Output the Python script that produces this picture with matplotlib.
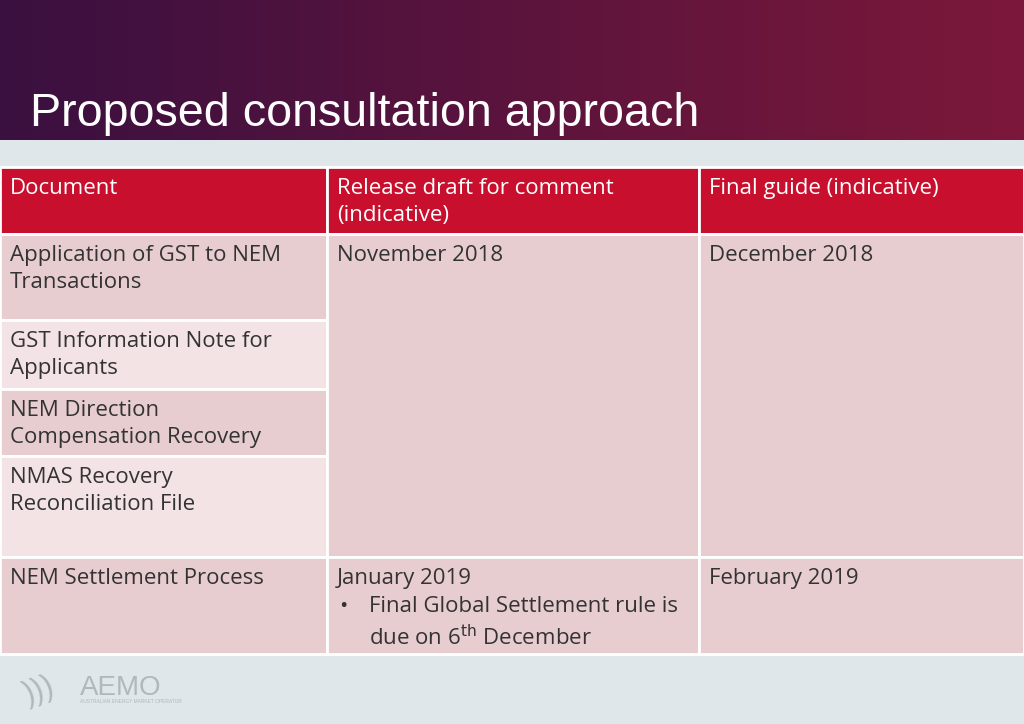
import numpy as np
import matplotlib
matplotlib.use("Agg")
import matplotlib.pyplot as plt
from matplotlib.patches import Rectangle

title = "Proposed consultation approach"
headers = ["Document", "Release draft for comment\n(indicative)", "Final guide (indicative)"]
documents = ["Application of GST to NEM\nTransactions", "GST Information Note for\nApplicants",
             "NEM Direction\nCompensation Recovery", "NMAS Recovery\nReconciliation File",
             "NEM Settlement Process"]
release_dates = ["November 2018", "January 2019"]
final_dates = ["December 2018", "February 2019"]
note = "Final Global Settlement rule is\ndue on 6$^{\\mathrm{th}}$ December"

col_x = [0, 327, 699, 1024]
row_y = [167, 234, 320, 389, 456, 557, 654]

fig = plt.figure(figsize=(10.24, 7.24), dpi=100)
ax = fig.add_axes([0, 0, 1, 1])
ax.axis("off")
ax.add_patch(Rectangle((0, 0), 1024, 724, color="#dfe7ea", zorder=0))
grad = np.linspace(0, 1, 256)[None, :, None]
c0 = np.array([0x3a, 0x10, 0x40]) / 255; c1 = np.array([0x7c, 0x18, 0x3a]) / 255
img = c0 * (1 - grad) + c1 * grad
ax.imshow(img, extent=[0, 1024, 140, 0], aspect="auto", zorder=1)
ax.set_xlim(0, 1024); ax.set_ylim(724, 0)
ax.text(30, 126, title, color="white", fontsize=33.6, family="Liberation Sans", va="baseline", zorder=3)

white = "white"
def cell(x0, x1, y0, y1, color):
    ax.add_patch(Rectangle((x0, y0), x1 - x0, y1 - y0, facecolor=color, edgecolor=white, lw=2, zorder=2))

ls = 1.4
pad = 11
for i, h in enumerate(headers):
    cell(col_x[i], col_x[i + 1], row_y[0], row_y[1], "#c8102e")
    ax.text(col_x[i] + 10, row_y[0] + pad, h, color="white", fontsize=16, family="Open Sans", va="top", linespacing=ls, zorder=3)

body_font = dict(fontsize=16, family="Open Sans", color="#333333", va="top", linespacing=ls, zorder=3)
first_col_colors = ["#e8cdd0", "#f3e3e5", "#e8cdd0", "#f3e3e5", "#e8cdd0"]
for r, d in enumerate(documents):
    cell(col_x[0], col_x[1], row_y[r + 1], row_y[r + 2], first_col_colors[r])
    ax.text(col_x[0] + 10, row_y[r + 1] + pad, d, **body_font)

for c in (1, 2):
    cell(col_x[c], col_x[c + 1], row_y[1], row_y[5], "#e8cdd0")
    cell(col_x[c], col_x[c + 1], row_y[5], row_y[6], "#e8cdd0")
ax.text(col_x[1] + 10, row_y[1] + pad, release_dates[0], **body_font)
ax.text(col_x[2] + 10, row_y[1] + pad, final_dates[0], **body_font)
ax.text(col_x[1] + 10, row_y[5] + pad, release_dates[1], **body_font)
ax.text(col_x[1] + 12, row_y[5] + pad + 28, "\u2022", **body_font)
ax.text(col_x[1] + 42, row_y[5] + pad + 28, note, **body_font)
ax.text(col_x[2] + 10, row_y[5] + pad, final_dates[1], **body_font)

ax.text(80, 695, "AEMO", color="#b0b8bc", fontsize=20, family="Liberation Sans", va="baseline", zorder=3)
ax.text(80, 703, "AUSTRALIAN ENERGY MARKET OPERATOR", color="#b0b8bc", fontsize=3.5, family="Liberation Sans", zorder=3)
ax.text(20, 703, ")))", color="#b0b8bc", fontsize=22, family="Liberation Sans", rotation=20, zorder=3)

fig.savefig("out.png", dpi=100)
